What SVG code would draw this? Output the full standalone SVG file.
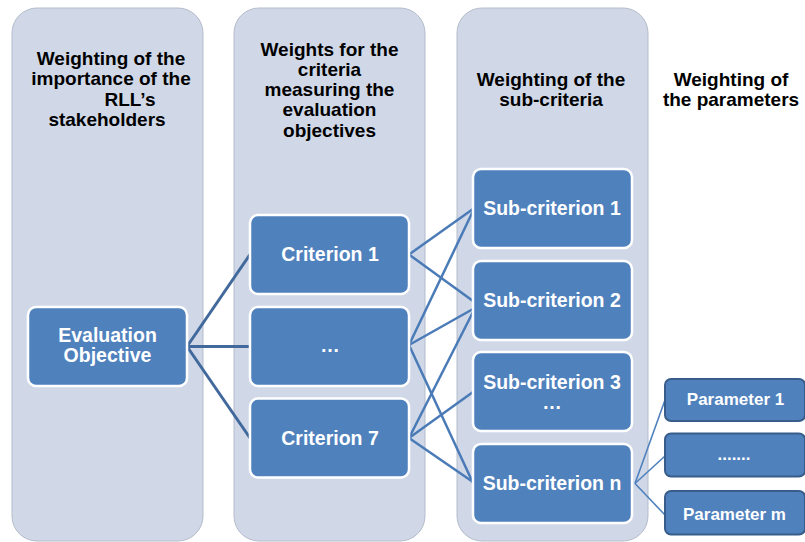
<svg xmlns="http://www.w3.org/2000/svg" width="805" height="542" viewBox="0 0 805 542">
<style>
.panel{fill:#d0d8e8;stroke:#b4bccb;stroke-width:1}
.node{fill:#4f81bd;stroke:#ffffff;stroke-width:2.5}
.param{fill:#4f81bd;stroke:#385d8a;stroke-width:2}
.hd{font-family:"Liberation Sans",Arial,sans-serif;font-weight:bold;font-size:19px;fill:#000;text-anchor:middle}
.lb{font-family:"Liberation Sans",Arial,sans-serif;font-weight:bold;font-size:19.5px;fill:#fff;text-anchor:middle}
.pl{font-family:"Liberation Sans",Arial,sans-serif;font-weight:bold;font-size:17px;fill:#fff;text-anchor:middle}
.c1{stroke:#41699c;stroke-width:3;fill:none}
.c2{stroke:#4a7bb7;stroke-width:2.5;fill:none}
.c3{stroke:#4f81bd;stroke-width:1.6;fill:none}
</style>
<rect width="805" height="542" fill="#ffffff"/>
<g id="panels">
<rect class="panel" x="12" y="8" width="191" height="533" rx="25"/>
<rect class="panel" x="234" y="8" width="191" height="533" rx="25"/>
<rect class="panel" x="457" y="8" width="191" height="533" rx="25"/>
</g>
<g id="headers">
<text class="hd" font-size="18.7"><tspan x="111" y="65">Weighting of the</tspan><tspan x="111" y="85.3">importance of the</tspan><tspan x="130" y="105.6">RLL’s</tspan><tspan x="107" y="125.9">stakeholders</tspan></text>
<text class="hd"><tspan x="329.5" y="55.5">Weights for the</tspan><tspan x="329.5" y="75.8">criteria</tspan><tspan x="329.5" y="96.1">measuring the</tspan><tspan x="329.5" y="116.4">evaluation</tspan><tspan x="329.5" y="136.7">objectives</tspan></text>
<text class="hd" font-size="19.5"><tspan x="551" y="85.5">Weighting of the</tspan><tspan x="551" y="106">sub-criteria</tspan></text>
<text class="hd"><tspan x="731" y="85.5">Weighting of</tspan><tspan x="731" y="106">the parameters</tspan></text>
</g>
<g id="connectors">
<line class="c1" x1="187" y1="346.5" x2="250" y2="254.5"/>
<line class="c1" x1="187" y1="346.5" x2="250" y2="346.5"/>
<line class="c1" x1="187" y1="346.5" x2="250" y2="438"/>
<line class="c2" x1="409" y1="254.5" x2="473" y2="209"/>
<line class="c2" x1="409" y1="254.5" x2="473" y2="301"/>
<line class="c2" x1="409" y1="345" x2="473" y2="211"/>
<line class="c2" x1="409" y1="345" x2="473" y2="309"/>
<line class="c2" x1="409" y1="345" x2="473" y2="483"/>
<line class="c2" x1="409" y1="438" x2="473" y2="312"/>
<line class="c2" x1="409" y1="438" x2="473" y2="392"/>
<line class="c2" x1="409" y1="438" x2="473" y2="482"/>
<line class="c3" x1="635" y1="483.5" x2="665" y2="400"/>
<line class="c3" x1="635" y1="483.5" x2="665" y2="456"/>
<line class="c3" x1="635" y1="483.5" x2="665" y2="515"/>
</g>
<g id="eval-objective">
<rect class="node" x="28" y="307" width="159" height="79" rx="8"/>
<text class="lb"><tspan x="107.5" y="341.5">Evaluation</tspan><tspan x="107.5" y="361.5">Objective</tspan></text>
</g>
<g id="criterion-1">
<rect class="node" x="250" y="215" width="159" height="79" rx="8"/>
<text class="lb" x="330" y="261">Criterion 1</text>
</g>
<g id="criterion-dots">
<rect class="node" x="250" y="307" width="159" height="79" rx="8"/>
<text class="lb" x="330" y="352" font-weight="normal" font-size="17" fill="#e8eef7">…</text>
</g>
<g id="criterion-7">
<rect class="node" x="250" y="398.5" width="159" height="79" rx="8"/>
<text class="lb" x="330" y="445">Criterion 7</text>
</g>
<g id="sub-criterion-1">
<rect class="node" x="473" y="169" width="159" height="79" rx="8"/>
<text class="lb" x="552" y="215">Sub-criterion 1</text>
</g>
<g id="sub-criterion-2">
<rect class="node" x="473" y="261" width="159" height="79" rx="8"/>
<text class="lb" x="552" y="307">Sub-criterion 2</text>
</g>
<g id="sub-criterion-3">
<rect class="node" x="473" y="352" width="159" height="79" rx="8"/>
<text class="lb"><tspan x="552" y="388.5">Sub-criterion 3</tspan><tspan x="552" y="409">…</tspan></text>
</g>
<g id="sub-criterion-n">
<rect class="node" x="473" y="444" width="159" height="79" rx="8"/>
<text class="lb" x="552" y="489.5">Sub-criterion n</text>
</g>
<g id="parameter-1">
<rect class="param" x="665" y="379" width="140" height="42" rx="6"/>
<text class="pl" x="735.5" y="404.5">Parameter 1</text>
</g>
<g id="parameter-dots">
<rect class="param" x="665" y="433.5" width="140" height="43" rx="6"/>
<text class="pl" x="734" y="460">.......</text>
</g>
<g id="parameter-m">
<rect class="param" x="665" y="491" width="140" height="43.5" rx="6"/>
<text class="pl" x="734.5" y="519.5">Parameter m</text>
</g>
</svg>
